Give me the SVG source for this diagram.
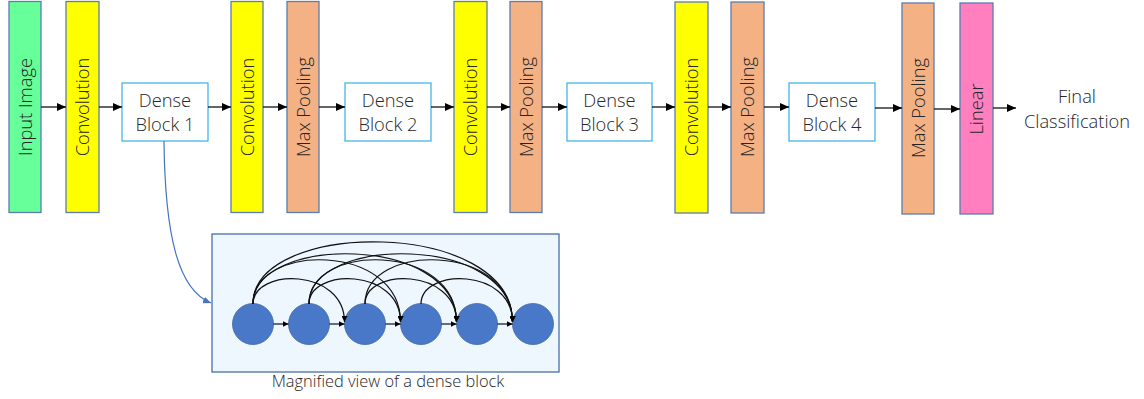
<svg xmlns="http://www.w3.org/2000/svg" width="1144" height="399" viewBox="0 0 1144 399">
<defs>
<style>
.bar{stroke:#5b7db0;stroke-width:1.3}
.conv{fill:#ffff00}
.inp{fill:#66ff99}
.pool{fill:#f4b183}
.lin{fill:#ff7fbf}
.dense{fill:#fff;stroke:#45b6e8;stroke-width:1.3}
.t{font-family:"Open Sans","Liberation Sans",sans-serif;font-weight:300;font-size:18.3px;fill:#262626}
.c{fill:#4a78c8;stroke:#41699f;stroke-width:0.8}
.ar{stroke:#111;stroke-width:1.3;fill:none;marker-end:url(#ah)}
.sk{stroke:#111;stroke-width:1.2;fill:none;marker-end:url(#sh)}
</style>
<marker id="ah" markerUnits="userSpaceOnUse" markerWidth="9" markerHeight="8" refX="9" refY="4" orient="auto"><path d="M0,0 L9,4 L0,8 z" fill="#000"/></marker>
<marker id="sh" markerUnits="userSpaceOnUse" markerWidth="6" markerHeight="6" refX="6" refY="3" orient="auto"><path d="M0,0 L6,3 L0,6 z" fill="#000"/></marker>
<marker id="bh" markerUnits="userSpaceOnUse" markerWidth="8" markerHeight="7" refX="8" refY="3.5" orient="auto"><path d="M0,0 L8,3.5 L0,7 z" fill="#4472c4"/></marker>
</defs>
<rect width="1144" height="399" fill="#fff"/>

<g id="input"><rect class="bar inp" x="9" y="1.5" width="32" height="211"/><text class="t" text-anchor="middle" dy="0.35em" transform="translate(26,107) rotate(-90)">Input Image</text></g>
<g id="conv1"><rect class="bar conv" x="66" y="1.5" width="33" height="211"/><text class="t" text-anchor="middle" dy="0.35em" transform="translate(83,107) rotate(-90)">Convolution</text></g>
<g id="dense1"><rect class="dense" x="122" y="83" width="86" height="58"/><text class="t" text-anchor="middle" x="165" y="107">Dense</text><text class="t" text-anchor="middle" x="165" y="131">Block 1</text></g>
<g id="conv2"><rect class="bar conv" x="231" y="1.5" width="32" height="211"/><text class="t" text-anchor="middle" dy="0.35em" transform="translate(248,107) rotate(-90)">Convolution</text></g>
<g id="pool1"><rect class="bar pool" x="287" y="1.5" width="32" height="211"/><text class="t" text-anchor="middle" dy="0.35em" transform="translate(304,107) rotate(-90)">Max Pooling</text></g>
<g id="dense2"><rect class="dense" x="345" y="83" width="86" height="58"/><text class="t" text-anchor="middle" x="388" y="107">Dense</text><text class="t" text-anchor="middle" x="388" y="131">Block 2</text></g>
<g id="conv3"><rect class="bar conv" x="454" y="1.5" width="33" height="211"/><text class="t" text-anchor="middle" dy="0.35em" transform="translate(471,107) rotate(-90)">Convolution</text></g>
<g id="pool2"><rect class="bar pool" x="510" y="1.5" width="32" height="211"/><text class="t" text-anchor="middle" dy="0.35em" transform="translate(527,107) rotate(-90)">Max Pooling</text></g>
<g id="dense3"><rect class="dense" x="567" y="83" width="85" height="58"/><text class="t" text-anchor="middle" x="609.5" y="107">Dense</text><text class="t" text-anchor="middle" x="609.5" y="131">Block 3</text></g>
<g id="conv4"><rect class="bar conv" x="675" y="2" width="33" height="211"/><text class="t" text-anchor="middle" dy="0.35em" transform="translate(692,107) rotate(-90)">Convolution</text></g>
<g id="pool3"><rect class="bar pool" x="731" y="2" width="33" height="211"/><text class="t" text-anchor="middle" dy="0.35em" transform="translate(748,107) rotate(-90)">Max Pooling</text></g>
<g id="dense4"><rect class="dense" x="789" y="83" width="86" height="58"/><text class="t" text-anchor="middle" x="832" y="107">Dense</text><text class="t" text-anchor="middle" x="832" y="131">Block 4</text></g>
<g id="pool4"><rect class="bar pool" x="902" y="3" width="32" height="211"/><text class="t" text-anchor="middle" dy="0.35em" transform="translate(919,108) rotate(-90)">Max Pooling</text></g>
<g id="linear"><rect class="bar lin" x="960" y="3" width="33" height="211"/><text class="t" text-anchor="middle" dy="0.35em" transform="translate(977,109) rotate(-90)">Linear</text></g>
<g id="final"><text class="t" text-anchor="middle" x="1077" y="103">Final</text><text class="t" text-anchor="middle" x="1077" y="128">Classification</text></g>

<g id="magnified">
<rect x="212" y="234" width="347" height="138" fill="#eef6fe" stroke="#4a6fa5" stroke-width="1.3"/>
<circle class="c" cx="253" cy="324" r="20.5"/>
<circle class="c" cx="309" cy="324" r="20.5"/>
<circle class="c" cx="365" cy="324" r="20.5"/>
<circle class="c" cx="421" cy="324" r="20.5"/>
<circle class="c" cx="477" cy="324" r="20.5"/>
<circle class="c" cx="533" cy="324" r="20.5"/>
<g id="block-connectors">
<path class="sk" d="M273.5,324 H288.5"/>
<path class="sk" d="M329.5,324 H344.5"/>
<path class="sk" d="M385.5,324 H400.5"/>
<path class="sk" d="M441.5,324 H456.5"/>
<path class="sk" d="M497.5,324 H512.5"/>
<path class="sk" d="M253,304 C253,267.7 344.5,267.7 344.5,322"/>
<path class="sk" d="M253,304 C253,242.3 400.5,242.3 400.5,322"/>
<path class="sk" d="M253,304 C253,234.3 456.5,234.3 456.5,322"/>
<path class="sk" d="M253,304 C253,218.3 512.5,218.3 512.5,322"/>
<path class="sk" d="M309,304 C309,267.7 400.5,267.7 400.5,322"/>
<path class="sk" d="M309,304 C309,242.3 456.5,242.3 456.5,322"/>
<path class="sk" d="M309,304 C309,234.3 512.5,234.3 512.5,322"/>
<path class="sk" d="M365,304 C365,267.7 456.5,267.7 456.5,322"/>
<path class="sk" d="M365,304 C365,242.3 512.5,242.3 512.5,322"/>
<path class="sk" d="M421,304 C421,267.7 512.5,267.7 512.5,322"/>
</g>
<text class="t" style="font-size:16.4px" text-anchor="middle" x="388" y="387">Magnified view of a dense block</text>
</g>

<g id="connectors">
<path class="ar" d="M41,107 H66"/>
<path class="ar" d="M99,107 H122"/>
<path class="ar" d="M208,107 H231"/>
<path class="ar" d="M263,107 H287"/>
<path class="ar" d="M319,107 H345"/>
<path class="ar" d="M431,107 H454"/>
<path class="ar" d="M487,107 H510"/>
<path class="ar" d="M542,107 H567"/>
<path class="ar" d="M652,107 H675"/>
<path class="ar" d="M708,107 H731"/>
<path class="ar" d="M764,107 H789"/>
<path class="ar" d="M875,108 H902"/>
<path class="ar" d="M934,109 H960"/>
<path class="ar" d="M993,108 H1016"/>
<path d="M164,141 C165,235 178,290 211,303" fill="none" stroke="#4472c4" stroke-width="1.2" marker-end="url(#bh)"/>
</g>
</svg>
